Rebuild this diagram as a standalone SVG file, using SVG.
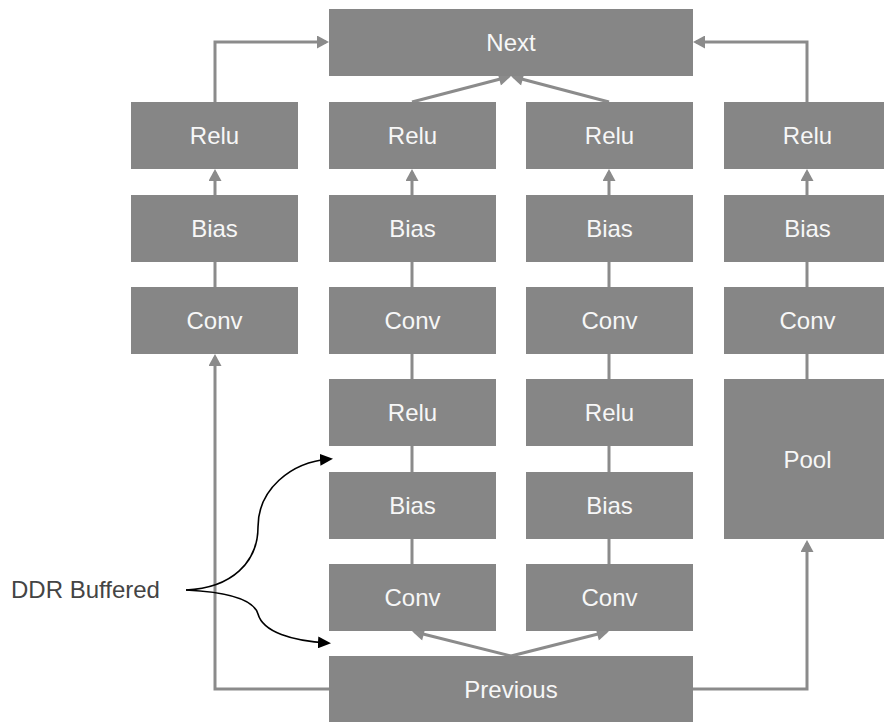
<svg xmlns="http://www.w3.org/2000/svg" width="884" height="722" viewBox="0 0 884 722">
<style>
.box{fill:#868686}
.lbl{font-family:"Liberation Sans",Arial,sans-serif;font-size:24px;fill:#f7f7f7;text-anchor:middle}
.con{fill:none;stroke:#8b8b8b;stroke-width:3}
.blk{fill:none;stroke:#000;stroke-width:1.6}
</style>
<defs>
<marker id="ga" markerUnits="userSpaceOnUse" markerWidth="13" markerHeight="13" viewBox="0 0 12 13" refX="9" refY="6.5" orient="auto">
<path d="M0,0 L12,6.5 L0,13 z" fill="#8b8b8b"/>
</marker>
<marker id="ba" markerUnits="userSpaceOnUse" markerWidth="13" markerHeight="12" viewBox="0 0 13 12" refX="10" refY="6" orient="auto">
<path d="M0,0 L13,6 L0,12 z" fill="#000"/>
</marker>
</defs>
<rect width="884" height="722" fill="#fff"/>
<g id="connectors">
<path class="con" d="M215,102 V42 H326" marker-end="url(#ga)"/>
<path class="con" d="M807,102 V42 H696" marker-end="url(#ga)"/>
<path class="con" d="M412,102 L508,77" marker-end="url(#ga)"/>
<path class="con" d="M609,102 L514,77" marker-end="url(#ga)"/>
<path class="con" d="M215,195 V172" marker-end="url(#ga)"/>
<path class="con" d="M412,195 V172" marker-end="url(#ga)"/>
<path class="con" d="M609,195 V172" marker-end="url(#ga)"/>
<path class="con" d="M807,195 V172" marker-end="url(#ga)"/>
<path class="con" d="M215,262 V287"/>
<path class="con" d="M412,262 V287"/>
<path class="con" d="M609,262 V287"/>
<path class="con" d="M807,262 V287"/>
<path class="con" d="M412,354 V379"/>
<path class="con" d="M609,354 V379"/>
<path class="con" d="M807,354 V379"/>
<path class="con" d="M412,446 V472"/>
<path class="con" d="M609,446 V472"/>
<path class="con" d="M412,539 V564"/>
<path class="con" d="M609,539 V564"/>
<path class="con" d="M511,656 L415,632" marker-end="url(#ga)"/>
<path class="con" d="M511,656 L606,632" marker-end="url(#ga)"/>
<path class="con" d="M329,689 H215 V357" marker-end="url(#ga)"/>
<path class="con" d="M693,689 H807 V543" marker-end="url(#ga)"/>
<path class="blk" d="M186,590 C232,588 258,562 258,527 C258,490 290,462 330,459" marker-end="url(#ba)"/>
<path class="blk" d="M186,590 C228,592 254,600 258,614 C263,632 292,641 328,643" marker-end="url(#ba)"/>
</g>
<g id="next"><rect class="box" x="329" y="9" width="364" height="67"/><text class="lbl" x="511" y="51">Next</text></g>
<g id="relu1"><rect class="box" x="131" y="102" width="167" height="67"/><text class="lbl" x="214.5" y="144">Relu</text></g>
<g id="bias1"><rect class="box" x="131" y="195" width="167" height="67"/><text class="lbl" x="214.5" y="237">Bias</text></g>
<g id="conv1"><rect class="box" x="131" y="287" width="167" height="67"/><text class="lbl" x="214.5" y="329">Conv</text></g>
<g id="relu2a"><rect class="box" x="329" y="102" width="167" height="67"/><text class="lbl" x="412.5" y="144">Relu</text></g>
<g id="bias2a"><rect class="box" x="329" y="195" width="167" height="67"/><text class="lbl" x="412.5" y="237">Bias</text></g>
<g id="conv2a"><rect class="box" x="329" y="287" width="167" height="67"/><text class="lbl" x="412.5" y="329">Conv</text></g>
<g id="relu2b"><rect class="box" x="329" y="379" width="167" height="67"/><text class="lbl" x="412.5" y="421">Relu</text></g>
<g id="bias2b"><rect class="box" x="329" y="472" width="167" height="67"/><text class="lbl" x="412.5" y="514">Bias</text></g>
<g id="conv2b"><rect class="box" x="329" y="564" width="167" height="67"/><text class="lbl" x="412.5" y="606">Conv</text></g>
<g id="relu3a"><rect class="box" x="526" y="102" width="167" height="67"/><text class="lbl" x="609.5" y="144">Relu</text></g>
<g id="bias3a"><rect class="box" x="526" y="195" width="167" height="67"/><text class="lbl" x="609.5" y="237">Bias</text></g>
<g id="conv3a"><rect class="box" x="526" y="287" width="167" height="67"/><text class="lbl" x="609.5" y="329">Conv</text></g>
<g id="relu3b"><rect class="box" x="526" y="379" width="167" height="67"/><text class="lbl" x="609.5" y="421">Relu</text></g>
<g id="bias3b"><rect class="box" x="526" y="472" width="167" height="67"/><text class="lbl" x="609.5" y="514">Bias</text></g>
<g id="conv3b"><rect class="box" x="526" y="564" width="167" height="67"/><text class="lbl" x="609.5" y="606">Conv</text></g>
<g id="relu4"><rect class="box" x="724" y="102" width="167" height="67"/><text class="lbl" x="807.5" y="144">Relu</text></g>
<g id="bias4"><rect class="box" x="724" y="195" width="167" height="67"/><text class="lbl" x="807.5" y="237">Bias</text></g>
<g id="conv4"><rect class="box" x="724" y="287" width="167" height="67"/><text class="lbl" x="807.5" y="329">Conv</text></g>
<g id="pool"><rect class="box" x="724" y="379" width="167" height="160"/><text class="lbl" x="807.5" y="468">Pool</text></g>
<g id="previous"><rect class="box" x="329" y="656" width="364" height="67"/><text class="lbl" x="511" y="698">Previous</text></g>
<g id="ddr"><text x="11" y="598" font-family="'Liberation Sans',Arial,sans-serif" font-size="24" fill="#444">DDR Buffered</text></g>
</svg>
